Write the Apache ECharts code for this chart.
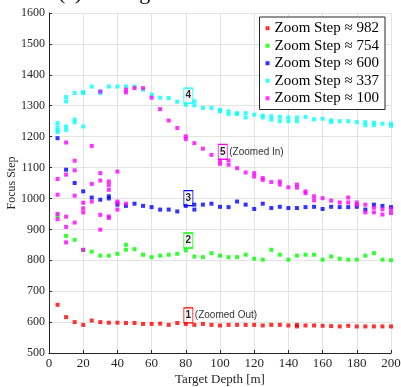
<!DOCTYPE html>
<html>
<head>
<meta charset="utf-8">
<script src="https://cdn.jsdelivr.net/npm/echarts@6/dist/echarts.min.js"></script>
<style>
html, body { margin: 0; padding: 0; background: #fff; }
#chart { width: 401px; height: 387px; }
</style>
</head>
<body>
<div id="chart"></div>
<script>
const depths = [5, 10, 15, 20, 25, 30, 35, 40, 45, 50, 55, 60, 65, 70, 75, 80, 85, 90, 95, 100,
  105, 110, 115, 120, 125, 130, 135, 140, 145, 150, 155, 160, 165, 170, 175, 180, 185, 190, 195, 200]

// several readings per depth where the picture shows more than one marker
const step982 = [656, 616, 600, 591, 605, 600, 598, 598, 597, 597, 594, 594, 595, 591, 597, 594, 591, 594, 591, 589,
  591, 591, 591, 591, 589, 591, 591, 589, [591, 586], 589, 589, 588, 587, 586, 588, 586, 586, 586, 586, 586]
const step754 = [944, 879, 866, 833, 828, 815, 815, 821, [850, 834], 836, 818, 810, 815, 818, 821, 832, 812, 810, 823, 815,
  810, 810, 818, 805, 802, 834, 818, 802, 815, 818, 818, 802, 812, 805, 802, 802, 815, 823, 802, 800]
const step600 = [1195, 1093, 1050, 1023, 1003, 996, [1007, 1000], 980, 976, 983, 976, 972, 964, 964, 958, 976, [980, 964], 980, 983, 973,
  972, 990, 980, 966, 983, 969, 973, 969, 969, 972, 973, 966, 973, 972, 972, 973, 964, 980, 976, 972]
const step337 = [[1244, 1230, 1220, 1215], [1328, 1314, 1233, 1222], [1341, 1255, 1246], [1344, 1341, 1233], 1362, [1346, 1341],
  1362, 1362, 1362, 1362, 1352, 1336, 1326, 1325, 1313, 1303, [1314, 1301], 1293, 1293, [1287, 1282],
  [1282, 1273], [1276, 1273], [1276, 1262], 1271, [1268, 1262], [1266, 1255], [1264, 1250], [1262, 1250], [1262, 1250], 1264,
  1256, 1258, [1253, 1247], 1250, 1250, 1247, [1247, 1237], [1245, 1237], 1242, [1242, 1235]]
const step100 = [[1063, 1012, 950, 933], [1181, 1077, 941, 908, 858], [1122, 1091, 1009, 922], [986, 968, 955, 834],
  [1170, 1047, 990], [1346, 1082, 1058, 947, 899], [1055, 1043, 1028, 942, 937], [1087, 990, 985, 964], [1352, 1343, 983],
  1357, 1357, 1326, 1289, 1252, 1228, [1201, 1192], 1179, 1161, 1141, [1123, 1112],
  [1123, 1109], 1098, 1084, [1082, 1071], [1066, 1060], 1053, [1055, 1045], 1036, [1045, 1035], [1023, 1017],
  [1007, 994], 1001, 993, 987, [1003, 987], [987, 980], [980, 955], [970, 955], [965, 948], [966, 953]]

const seriesNames = ['Zoom Step ≈ 982', 'Zoom Step ≈ 754', 'Zoom Step ≈ 600', 'Zoom Step ≈ 337', 'Zoom Step ≈ 100']
const seriesColors = ['#ff0000', '#00ff00', '#0000ff', '#00ffff', '#ff00ff']
const seriesValues = [step982, step754, step600, step337, step100]

// numbered boxes: [depth, focus step, number, note]
const boxes = [
  [81.5, 622, '1', '(Zoomed Out)'],
  [81.5, 864, '2', ''],
  [81.5, 1001, '3', ''],
  [81.5, 1333, '4', ''],
  [101.6, 1151, '5', '(Zoomed In)']
]

function toPoints(values) {
  return values.flatMap((v, i) => [].concat(v).map(y => [depths[i], y]))
}

function boxMarks(i) {
  const [x, y, num, note] = boxes[i]
  const marks = [{
    coord: [x, y],
    symbol: 'rect',
    symbolSize: [9, 15],
    itemStyle: { color: 'rgba(0,0,0,0)', borderColor: seriesColors[i], borderWidth: 1 },
    label: { show: true, position: 'inside', formatter: num, fontFamily: 'Liberation Sans', fontWeight: 'bold', fontSize: 10, color: '#262626' }
  }]
  if (note) {
    marks.push({
      coord: [x, y],
      symbol: 'rect',
      symbolSize: [9, 15],
      itemStyle: { color: 'rgba(0,0,0,0)', borderWidth: 0 },
      label: { show: true, position: 'right', distance: 2, formatter: note, fontFamily: 'Liberation Sans', fontSize: 10, color: '#333' }
    })
  }
  return marks
}

const chart = echarts.init(document.getElementById('chart'))
chart.setOption({
  animation: false,
  grid: { left: 49, right: 10, top: 13, bottom: 34, containLabel: false, outerBoundsMode: 'none' },
  graphic: [{
    type: 'text', left: 58, top: -18,
    style: { text: '(a) Setting', font: '22px "Liberation Serif"', fill: '#000' }
  }],
  legend: {
    orient: 'vertical', right: 16, top: 17,
    backgroundColor: '#fff', borderColor: '#262626', borderWidth: 1, borderRadius: 0,
    padding: [3, 6, 3, 6], itemGap: 1, itemWidth: 4, itemHeight: 4, icon: 'rect',
    textStyle: { fontFamily: 'Liberation Serif', fontSize: 15, color: '#000', lineHeight: 16.5 }
  },
  xAxis: {
    type: 'value', min: 0, max: 200, interval: 20,
    name: 'Target Depth [m]', nameLocation: 'middle', nameGap: 20, nameMoveOverlap: false,
    nameTextStyle: { fontFamily: 'Liberation Serif', fontSize: 13, color: '#262626' },
    axisLine: { onZero: false, lineStyle: { color: '#262626' } },
    axisTick: { inside: true, length: 3, lineStyle: { color: '#262626' } },
    axisLabel: { margin: 4, fontFamily: 'Liberation Serif', fontSize: 13, color: '#262626' },
    splitLine: { show: true, lineStyle: { color: '#e3e3e3' } }
  },
  yAxis: {
    type: 'value', min: 500, max: 1600, interval: 100,
    name: 'Focus Step', nameLocation: 'middle', nameGap: 31, nameMoveOverlap: false,
    nameTextStyle: { fontFamily: 'Liberation Serif', fontSize: 12, color: '#262626' },
    axisLine: { show: true, onZero: false, lineStyle: { color: '#262626' } },
    axisTick: { show: true, inside: true, length: 3, lineStyle: { color: '#262626' } },
    axisLabel: { margin: 4, fontFamily: 'Liberation Serif', fontSize: 12, color: '#262626', formatter: v => String(v) },
    splitLine: { show: true, lineStyle: { color: '#e3e3e3' } }
  },
  series: seriesValues.map((values, i) => ({
    name: seriesNames[i],
    type: 'scatter',
    symbol: 'rect',
    symbolSize: 4,
    itemStyle: { color: seriesColors[i] },
    emphasis: { disabled: true },
    data: toPoints(values),
    markPoint: { silent: true, data: boxMarks(i) }
  }))
})
</script>
</body>
</html>
